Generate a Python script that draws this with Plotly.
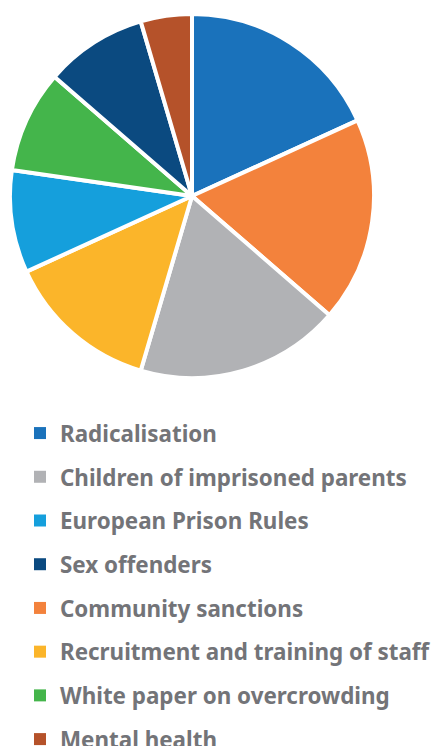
import plotly.graph_objects as go

# Slices, clockwise from 12 o'clock
slice_labels = [
    "Radicalisation",
    "Community sanctions",
    "Children of imprisoned parents",
    "Recruitment and training of staff",
    "European Prison Rules",
    "White paper on overcrowding",
    "Sex offenders",
    "Mental health",
]
slice_values = [4, 4, 4, 3, 2, 2, 2, 1]
slice_colors = [
    "#1a72bb",
    "#f3823c",
    "#b1b2b5",
    "#fbb52a",
    "#159fdc",
    "#44b54b",
    "#0b4a80",
    "#b5522a",
]

# Legend order (two stacked columns of the original key)
legend_order = [
    "Radicalisation",
    "Children of imprisoned parents",
    "European Prison Rules",
    "Sex offenders",
    "Community sanctions",
    "Recruitment and training of staff",
    "White paper on overcrowding",
    "Mental health",
]

W, H = 436, 746
color_of = dict(zip(slice_labels, slice_colors))

fig = go.Figure()
fig.add_trace(go.Pie(
    labels=slice_labels,
    values=slice_values,
    sort=False,
    direction="clockwise",
    rotation=0,
    marker=dict(colors=slice_colors, line=dict(color="white", width=4)),
    textinfo="none",
    hoverinfo="label+value",
    showlegend=False,
    domain=dict(x=[10 / W, 374 / W], y=[1 - 378 / H, 1 - 14 / H]),
))

for i, name in enumerate(legend_order):
    fig.add_trace(go.Scatter(
        x=[None], y=[None],
        mode="markers",
        name=name,
        legendgroup=f"g{i}",
        marker=dict(symbol="square", size=12, color=color_of[name]),
    ))

fig.update_layout(
    width=W, height=H,
    margin=dict(l=0, r=0, t=0, b=0, autoexpand=False),
    paper_bgcolor="white",
    plot_bgcolor="white",
    xaxis=dict(visible=False),
    yaxis=dict(visible=False),
    showlegend=True,
    legend=dict(
        x=20 / W, y=1 - 412 / H,
        xanchor="left", yanchor="top",
        traceorder="grouped",
        tracegroupgap=11.6,
        font=dict(family="Noto Sans", size=22.4, color="#737478", weight="bold"),
        bgcolor="rgba(0,0,0,0)",
        itemclick=False,
    ),
)

fig.write_html("out.html")
